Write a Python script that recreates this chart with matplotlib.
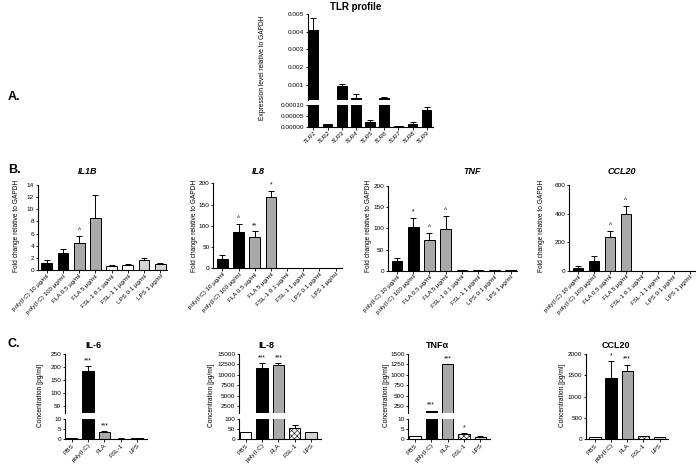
import numpy as np
import matplotlib
matplotlib.use('Agg')
import matplotlib.pyplot as plt

plt.rcParams['font.family'] = ['Liberation Sans', 'DejaVu Sans']
plt.rcParams['hatch.linewidth'] = 0.4

W, H = 696, 466

# ---- A. TLR profile ----
tlr_names = ['TLR1', 'TLR2', 'TLR3', 'TLR4', 'TLR5', 'TLR6', 'TLR7', 'TLR8', 'TLR9']
tlr_vals = [0.0041, 0.000012, 0.00095, 0.00025, 0.000025, 0.00026, 0.000003, 0.000015, 0.00008]
tlr_err = [0.0007, 0.000003, 0.00008, 0.00022, 0.000008, 0.00004, 0.000001, 0.000008, 0.000013]

# ---- B. qPCR fold change ----
stim_labels = ['poly(I:C) 10 µg/ml', 'poly(I:C) 100 µg/ml', 'FLA 0.5 µg/ml', 'FLA 5 µg/ml',
               'FSL-1 0.1 µg/ml', 'FSL-1 1 µg/ml', 'LPS 0.1 µg/ml', 'LPS 1 µg/ml']
il1b = [1.2, 2.8, 4.4, 8.5, 0.7, 0.8, 1.6, 1.0]
il1b_err = [0.4, 0.6, 1.2, 3.8, 0.2, 0.2, 0.4, 0.1]
il1b_sig = ['', '', '^', '', '', '', '', '']
il8 = [21, 85, 74, 168, 1, 1, 1.5, 1]
il8_err = [10, 20, 13, 14, 0.3, 0.3, 0.3, 0.3]
il8_sig = ['', '^', '**', '*', '', '', '', '']
tnf = [23, 103, 73, 98, 0.5, 0.5, 1, 0.5]
tnf_err = [6, 22, 15, 31, 0.2, 0.2, 0.3, 0.2]
tnf_sig = ['', '*', '^', '^', '', '', '', '']
ccl20 = [22, 70, 237, 397, 1, 1, 1, 1]
ccl20_err = [10, 35, 38, 55, 0.3, 0.3, 0.3, 0.3]
ccl20_sig = ['', '', '^', '^', '', '', '', '']
b_colors = ['black', 'black', '#a9a9a9', '#a9a9a9', 'white', 'white', '#d4d4d4', '#d4d4d4']

# ---- C. protein concentration ----
c_labels = ['PBS', 'poly(I:C)', 'FLA', 'FSL-1', 'LPS']
il6_c = [0.4, 185, 3.8, 0.3, 0.6]
il6_c_err = [0.1, 18, 0.2, 0.1, 0.2]
il6_c_sig = ['', '***', '***', '', '']
il8_c = [35, 11700, 12300, 55, 37]
il8_c_err = [2, 1100, 500, 13, 1]
il8_c_sig = ['', '***', '***', '', '']
tnfa_c = [1.6, 130, 1250, 2.5, 1.3]
tnfa_c_err = [0.1, 10, 10, 0.5, 0.2]
tnfa_c_sig = ['', '***', '***', '*', '']
ccl20_c = [50, 1440, 1590, 75, 45]
ccl20_c_err = [5, 390, 160, 10, 3]
ccl20_c_sig = ['', '*', '***', '', '']
c_colors = ['white', 'black', '#a9a9a9', 'white', '#d4d4d4']
c_hatch = ['', '', '', 'xxxxxx', '']

TICK_FS = 4.6
LAB_FS = 4.8

fig = plt.figure(figsize=(W / 100, H / 100), dpi=100)


def px_axes(x0, y0, x1, y1):
    return fig.add_axes([x0 / W, 1 - y1 / H, (x1 - x0) / W, (y1 - y0) / H])


def style(ax, top_part=False):
    for s in ['right', 'top']:
        ax.spines[s].set_visible(False)
    ax.spines['left'].set_linewidth(0.8)
    ax.spines['bottom'].set_linewidth(0.8)
    if top_part:
        ax.spines['bottom'].set_visible(False)
        ax.tick_params(axis='x', bottom=False, labelbottom=False)
    ax.tick_params(direction='out', length=1.8, width=0.6, labelsize=TICK_FS, pad=0.8)


def bars(ax, vals, err, colors, width, hatches=None):
    x = np.arange(len(vals))
    if hatches is None:
        hatches = [''] * len(vals)
    for i in range(len(vals)):
        ax.bar(x[i], vals[i], width, color=colors[i], edgecolor='black',
               linewidth=0.7, hatch=hatches[i], zorder=2)
    ax.errorbar(x, vals, yerr=[np.zeros(len(vals)), err], fmt='none',
                ecolor='black', elinewidth=0.7, capsize=2, capthick=0.7, zorder=3)


def sig_marks(ax, vals, err, sig):
    for i, s in enumerate(sig):
        if s:
            ax.annotate(s, (i, vals[i] + err[i]), xytext=(0, 1.5), textcoords='offset points',
                        ha='center', va='bottom', fontsize=4.8)


# ================= A =================
axA_top = px_axes(307.7, 14, 433.3, 100)
axA_bot = px_axes(307.7, 105.3, 433.3, 127)
for ax in (axA_top, axA_bot):
    bars(ax, tlr_vals, tlr_err, ['black'] * 9, 0.68)
    ax.set_xlim(-0.41, 8.47)
style(axA_top, top_part=True)
style(axA_bot)
axA_top.set_ylim(0.000134, 0.005)
axA_top.set_yticks([0.001, 0.002, 0.003, 0.004, 0.005])
axA_top.set_yticklabels(['0.001', '0.002', '0.003', '0.004', '0.005'])
axA_bot.set_ylim(0, 0.0001)
axA_bot.set_yticks([0, 0.00005, 0.0001])
axA_bot.set_yticklabels(['0.00000', '0.00005', '0.00010'])
axA_bot.set_xticks(range(9))
axA_bot.set_xticklabels(tlr_names, rotation=45, ha='right', rotation_mode='anchor',
                        fontsize=TICK_FS, style='italic')
fig.text(356 / W, 1 - 7 / H, 'TLR profile', ha='center', va='center', fontsize=7, fontweight='bold')
fig.text(263 / W, 1 - 68 / H, 'Expression level relative to GAPDH', rotation=90,
         ha='center', va='center', fontsize=LAB_FS)
fig.text(8 / W, 1 - 97 / H, 'A.', ha='left', va='center', fontsize=9, fontweight='bold')

# ================= B =================
b_panels = [
    ('IL1B', il1b, il1b_err, il1b_sig, (37.7, 185, 166.7, 270), 14, [0, 2, 4, 6, 8, 10, 12, 14], 16.7, 88),
    ('IL8', il8, il8_err, il8_sig, (213.3, 183.3, 342, 268.3), 200, [0, 50, 100, 150, 200], 194, 258),
    ('TNF', tnf, tnf_err, tnf_sig, (388, 186, 517, 270.7), 200, [0, 50, 100, 150, 200], 369, 472),
    ('CCL20', ccl20, ccl20_err, ccl20_sig, (569.3, 185, 696, 270.7), 600, [0, 200, 400, 600], 541.7, 622),
]
for name, vals, err, sig, rect, ymax, ticks, ylab_x, title_x in b_panels:
    ax = px_axes(*rect)
    bars(ax, vals, err, b_colors, 0.66)
    sig_marks(ax, vals, err, sig)
    style(ax)
    ax.set_xlim(-0.56, 7.4)
    ax.set_ylim(0, ymax)
    ax.set_yticks(ticks)
    ax.set_xticks(range(8))
    ax.set_xticklabels(stim_labels, rotation=45, ha='right', rotation_mode='anchor', fontsize=4.5)
    fig.text(title_x / W, 1 - 172 / H, name, ha='center', va='center', fontsize=6.5,
             fontweight='bold', style='italic')
    fig.text(ylab_x / W, 1 - 226 / H, 'Fold change relative to GAPDH', rotation=90,
             ha='center', va='center', fontsize=LAB_FS)
fig.text(8 / W, 1 - 170 / H, 'B.', ha='left', va='center', fontsize=9, fontweight='bold')

# ================= C =================
c_panels = [
    ('IL-6', il6_c, il6_c_err, il6_c_sig, 65, (23, 250), [50, 100, 150, 200, 250],
     (0, 10), [0, 5, 10], 40, 93),
    ('IL-8', il8_c, il8_c_err, il8_c_sig, 239, (817, 15000), [2500, 5000, 7500, 10000, 12500, 15000],
     (0, 100), [0, 50, 100], 211.7, 266),
    ('TNFα', tnfa_c, tnfa_c_err, tnfa_c_sig, 408.3, (82, 1500), [250, 500, 750, 1000, 1250, 1500],
     (0, 10), [0, 5, 10], 386.7, 437),
]
for name, vals, err, sig, x0, ylim_top, ticks_top, ylim_bot, ticks_bot, ylab_x, title_x in c_panels:
    x1 = x0 + 81.7
    ax_t = px_axes(x0, 354, x1, 413)
    ax_b = px_axes(x0, 419, x1, 439.3)
    for ax in (ax_t, ax_b):
        bars(ax, vals, err, c_colors, 0.7, c_hatch)
        ax.set_xlim(-0.41, 4.6)
    style(ax_t, top_part=True)
    style(ax_b)
    ax_t.set_ylim(*ylim_top)
    ax_t.set_yticks(ticks_top)
    ax_b.set_ylim(*ylim_bot)
    ax_b.set_yticks(ticks_bot)
    for i, s in enumerate(sig):
        if s:
            top = vals[i] + err[i]
            target = ax_t if top > ylim_bot[1] else ax_b
            target.annotate(s, (i, top), xytext=(0, 1.5), textcoords='offset points',
                            ha='center', va='bottom', fontsize=4.8)
    ax_b.set_xticks(range(5))
    ax_b.set_xticklabels(c_labels, rotation=45, ha='right', rotation_mode='anchor', fontsize=TICK_FS)
    fig.text(title_x / W, 1 - 346 / H, name, ha='center', va='center', fontsize=6.5, fontweight='bold')
    fig.text(ylab_x / W, 1 - 395 / H, 'Concentration [pg/ml]', rotation=90,
             ha='center', va='center', fontsize=LAB_FS)

# CCL20 protein (no break)
ax = px_axes(586, 354, 667.7, 439.3)
bars(ax, ccl20_c, ccl20_c_err, c_colors, 0.7, c_hatch)
sig_marks(ax, ccl20_c, ccl20_c_err, ccl20_c_sig)
style(ax)
ax.set_xlim(-0.55, 4.5)
ax.set_ylim(0, 2000)
ax.set_yticks([0, 500, 1000, 1500, 2000])
ax.set_xticks(range(5))
ax.set_xticklabels(c_labels, rotation=45, ha='right', rotation_mode='anchor', fontsize=TICK_FS)
fig.text(616 / W, 1 - 346 / H, 'CCL20', ha='center', va='center', fontsize=6.5, fontweight='bold')
fig.text(562.7 / W, 1 - 395 / H, 'Concentration [pg/ml]', rotation=90,
         ha='center', va='center', fontsize=LAB_FS)
fig.text(8 / W, 1 - 344 / H, 'C.', ha='left', va='center', fontsize=9, fontweight='bold')

fig.savefig('out.png', dpi=100)
